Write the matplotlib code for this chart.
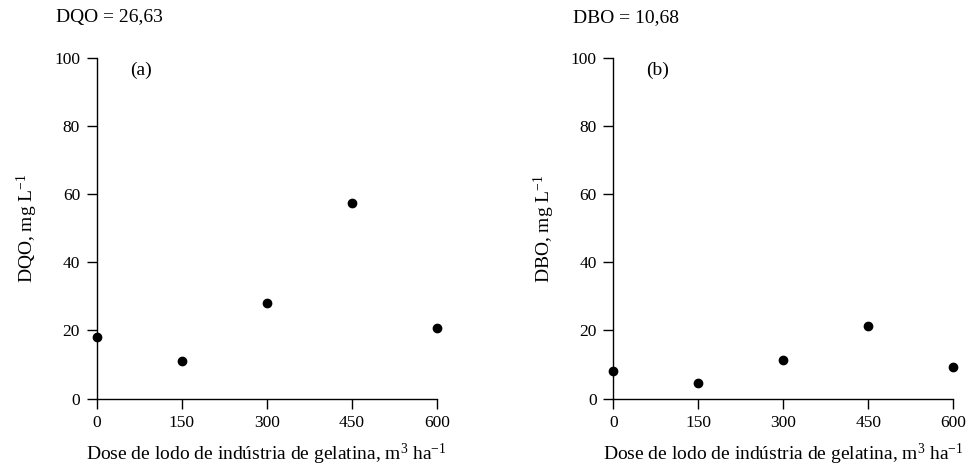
import matplotlib.pyplot as plt
plt.switch_backend('Agg')

plt.rcParams['font.family'] = 'Liberation Serif'
plt.rcParams['mathtext.fontset'] = 'custom'
plt.rcParams['mathtext.rm'] = 'Liberation Serif'

doses = [0, 150, 300, 450, 600]
dqo = [18.1, 10.9, 28.0, 57.4, 20.8]
dbo = [8.0, 4.5, 11.3, 21.3, 9.3]
y_ticks = [0, 20, 40, 60, 80, 100]

panels = [
    (dqo, 'DQO = 26,63', '(a)', r'DQO, mg L$\mathregular{^{-1}}$', 0.0998),
    (dbo, 'DBO = 10,68', '(b)', r'DBO, mg L$\mathregular{^{-1}}$', 0.633),
]

fig = plt.figure(figsize=(9.69, 4.76), dpi=100)

for vals, head, tag, ylab, left in panels:
    ax = fig.add_axes([left, 0.1628, 0.3509, 0.7145])
    ax.plot(doses, vals, 'o', color='black', markersize=6, clip_on=False, zorder=3)
    ax.set_xlim(0, 600)
    ax.set_ylim(0, 100)
    ax.set_xticks(doses)
    ax.set_yticks(y_ticks)
    ax.spines['top'].set_visible(False)
    ax.spines['right'].set_visible(False)
    for s in ['left', 'bottom']:
        ax.spines[s].set_linewidth(1.0)
    ax.tick_params(direction='out', length=7, width=1.0, labelsize=12.5, pad=5)
    ax.set_xlabel(r'Dose de lodo de indústria de gelatina, m$\mathregular{^{3}}$ ha$\mathregular{^{-1}}$',
                  fontsize=14, labelpad=8)
    ax.set_ylabel(ylab, fontsize=14, labelpad=10)
    ax.text(0.097, 0.965, tag, transform=ax.transAxes, fontsize=14, va='center')
    ax.text(-0.12, 1.12, head, transform=ax.transAxes, fontsize=14, va='center')

plt.savefig('out.png', dpi=100)
